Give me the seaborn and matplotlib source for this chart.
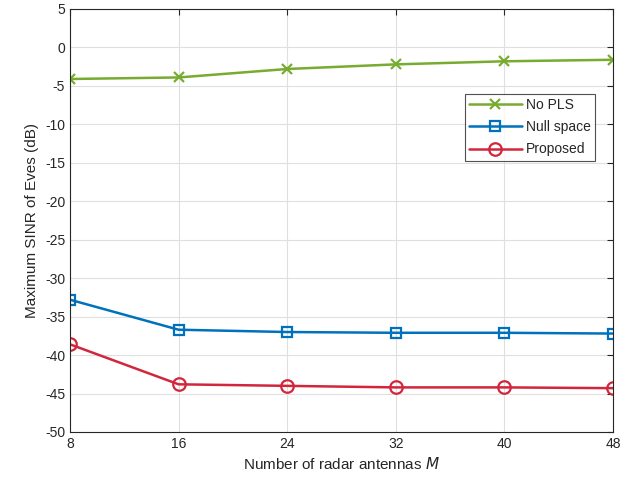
import matplotlib
matplotlib.use("Agg")
import matplotlib.pyplot as plt
import pandas as pd
import seaborn as sns

antennas = [8, 16, 24, 32, 40, 48]
no_pls = [-4.1, -3.9, -2.8, -2.2, -1.8, -1.6]
null_space = [-32.8, -36.7, -37.0, -37.1, -37.1, -37.2]
proposed = [-38.6, -43.8, -44.0, -44.2, -44.2, -44.3]

series_names = ["No PLS", "Null space", "Proposed"]
colors = ["#77AC30", "#0072BD", "#D2263D"]
markers = ["x", "s", "o"]

df = pd.DataFrame({"M": antennas, "No PLS": no_pls,
                   "Null space": null_space, "Proposed": proposed})
long_df = df.melt(id_vars="M", var_name="method", value_name="sinr")

sns.set_style("whitegrid")
plt.rcParams["font.family"] = ["Liberation Sans", "DejaVu Sans"]
plt.rcParams["axes.unicode_minus"] = False

fig = plt.figure(figsize=(6.33, 4.88), dpi=100)
ax = fig.add_axes([70 / 633, 1 - 432 / 488, 543 / 633, 423 / 488])

sizes = {"x": 7, "s": 7, "o": 9}
for name, c, m in zip(series_names, colors, markers):
    sub = long_df[long_df["method"] == name]
    face = "none" if m != "x" else c
    sns.lineplot(data=sub, x="M", y="sinr", ax=ax, color=c, marker=m,
                 markersize=sizes[m], markerfacecolor=face,
                 markeredgecolor=c, markeredgewidth=1.6, linewidth=1.8,
                 label=name)

ax.set_xlim(8, 48)
ax.set_ylim(-50, 5)
ax.set_xticks(antennas)
ax.set_yticks(range(-50, 6, 5))
ax.set_xlabel("Number of radar antennas $M$", fontsize=11)
ax.set_ylabel("Maximum SINR of Eves (dB)", fontsize=11)
ax.tick_params(axis="both", labelsize=10, direction="in", length=4,
               colors="#262626", top=True, right=True)
ax.grid(True, color="#DFDFDF", linewidth=0.8)
for s in ax.spines.values():
    s.set_color("#262626")
    s.set_linewidth(0.8)

leg = ax.legend(loc="upper right", bbox_to_anchor=(0.967, 0.8), fontsize=10,
                frameon=True, fancybox=False, edgecolor="#262626",
                handlelength=3.8, handletextpad=0.3, borderpad=0.3,
                labelspacing=0.6, borderaxespad=0)
leg.get_frame().set_linewidth(0.8)

fig.savefig("out.png", dpi=100)
